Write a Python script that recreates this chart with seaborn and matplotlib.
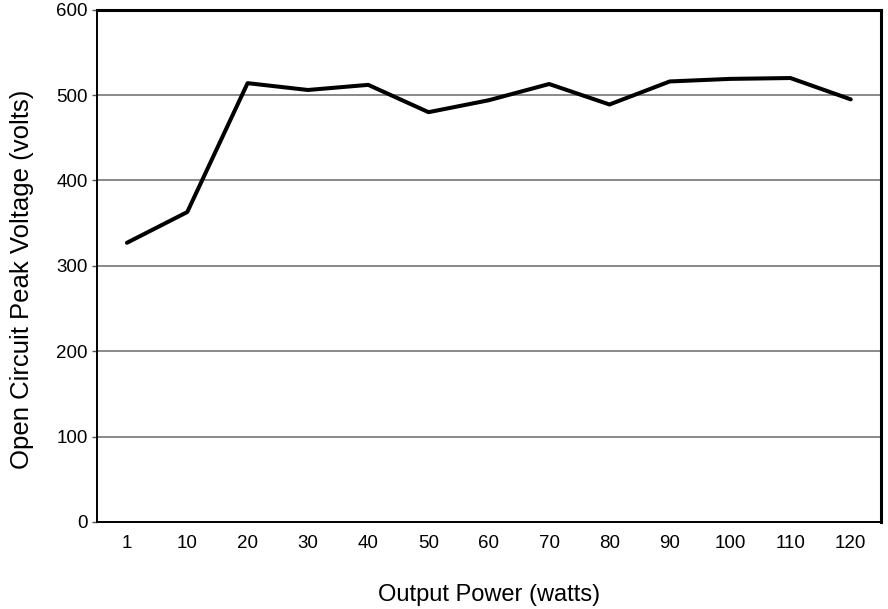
import numpy as np
import pandas as pd
import matplotlib
matplotlib.use("Agg")
import matplotlib.pyplot as plt
import seaborn as sns

# data
power_labels = ["1", "10", "20", "30", "40", "50", "60", "70", "80", "90", "100", "110", "120"]
peak_voltage = [327, 363, 514, 506, 512, 480, 494, 513, 489, 516, 519, 520, 495]

df = pd.DataFrame({"power": power_labels, "voltage": peak_voltage})

sns.set_style("white")
plt.rcParams["font.family"] = ["Liberation Sans", "DejaVu Sans"]
plt.rcParams["text.color"] = "black"
plt.rcParams["axes.labelcolor"] = "black"
plt.rcParams["xtick.color"] = "black"
plt.rcParams["ytick.color"] = "black"

fig = plt.figure(figsize=(8.88, 6.09), dpi=100)
ax = fig.add_axes([0.109, 0.143, 0.883, 0.841])

sns.lineplot(data=df, x="power", y="voltage", color="black", linewidth=2.9,
             sort=False, ax=ax)

ax.set_xlim(-0.5, len(power_labels) - 0.5)
ax.set_ylim(0, 600)
ax.set_yticks([0, 100, 200, 300, 400, 500, 600])
ax.yaxis.grid(True, color="#6a6a6a", linewidth=1.1)
ax.set_axisbelow(True)

# category ticks between labels
ax.set_xticks(np.arange(len(power_labels)))
ax.set_xticklabels(power_labels)
ax.set_xticks(np.arange(len(power_labels) + 1) - 0.5, minor=True)
ax.tick_params(axis="x", which="major", length=0, pad=9.5, labelsize=13.5)
ax.tick_params(axis="x", which="minor", length=3.5, width=1, color="#555555")
ax.tick_params(axis="y", which="major", length=3.5, width=1, labelsize=13.5, pad=3,
               color="#555555", left=True)

for side in ["left", "bottom"]:
    ax.spines[side].set_color("black")
    ax.spines[side].set_linewidth(1.4)
for side in ["top", "right"]:
    ax.spines[side].set_color("black")
    ax.spines[side].set_linewidth(2.2)

ax.set_xlabel("Output Power (watts)", fontsize=17, labelpad=23)
ax.set_ylabel("Open Circuit Peak Voltage (volts)", fontsize=18.5)
ax.yaxis.set_label_coords(-0.080, 0.473)

fig.savefig("out.png", dpi=100)
